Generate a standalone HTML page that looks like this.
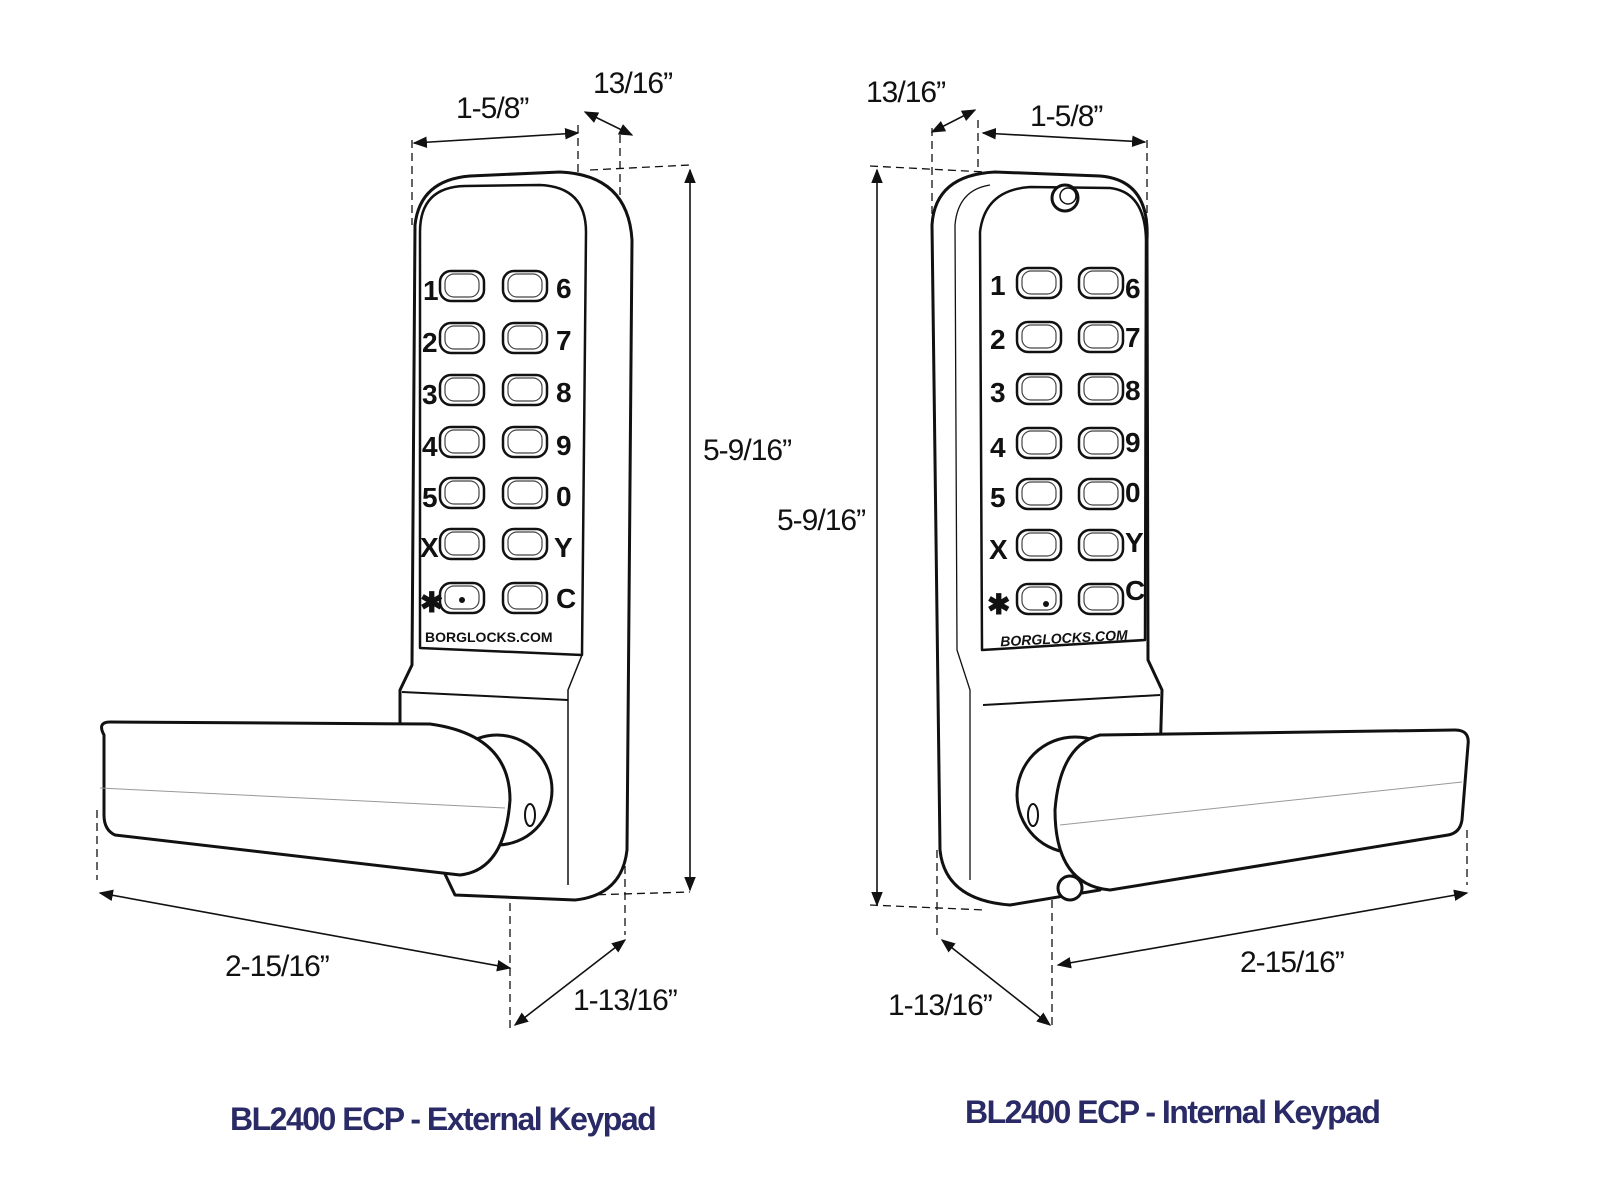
<!DOCTYPE html>
<html><head><meta charset="utf-8"><style>
html,body{margin:0;padding:0;background:#fff;width:1600px;height:1202px;overflow:hidden}
svg{display:block}
.t{font-family:"Liberation Sans",sans-serif;font-size:30px;fill:#111;letter-spacing:-1px}
.k{font-family:"Liberation Sans",sans-serif;font-weight:bold;font-size:28px;fill:#111}
.ti{font-family:"Liberation Sans",sans-serif;font-weight:bold;font-size:32px;fill:#2a2a66;letter-spacing:-1.5px}
</style></head><body>
<svg width="1600" height="1202" viewBox="0 0 1600 1202">
<defs>
<marker id="a" viewBox="0 0 10 10" refX="9" refY="5" markerWidth="9" markerHeight="9" orient="auto-start-reverse"><path d="M0,1 L10,5 L0,9 z" fill="#111"/></marker>
<g id="key"><rect x="0" y="0" width="44" height="30" rx="11" fill="#fff" stroke="#111" stroke-width="2.5"/><rect x="5" y="3" width="34" height="23" rx="9" fill="none" stroke="#444" stroke-width="1.2"/></g>
</defs>
<g fill="none" stroke="#111" stroke-width="1.3" stroke-dasharray="8,5">
<line x1="412" y1="140" x2="412" y2="225"/><line x1="578" y1="125" x2="578" y2="175"/><line x1="620" y1="135" x2="620" y2="230"/>
<line x1="590" y1="170" x2="690" y2="165"/><line x1="520" y1="897" x2="690" y2="892"/>
<line x1="97" y1="810" x2="97" y2="880"/><line x1="510" y1="890" x2="510" y2="1030"/><line x1="625" y1="840" x2="625" y2="935"/>
<line x1="932" y1="128" x2="932" y2="230"/><line x1="978" y1="120" x2="978" y2="170"/><line x1="1147" y1="140" x2="1147" y2="230"/>
<line x1="870" y1="166" x2="985" y2="172"/><line x1="870" y1="905" x2="985" y2="910"/>
<line x1="937" y1="850" x2="937" y2="935"/><line x1="1052" y1="900" x2="1052" y2="1030"/><line x1="1467" y1="830" x2="1467" y2="885"/>
</g>
<g stroke="#111" stroke-width="1.6" fill="none">
<line x1="414" y1="143" x2="578" y2="133" marker-start="url(#a)" marker-end="url(#a)"/>
<line x1="585" y1="112" x2="632" y2="135" marker-start="url(#a)" marker-end="url(#a)"/>
<line x1="690" y1="170" x2="690" y2="890" marker-start="url(#a)" marker-end="url(#a)"/>
<line x1="100" y1="893" x2="510" y2="968" marker-start="url(#a)" marker-end="url(#a)"/>
<line x1="515" y1="1025" x2="625" y2="940" marker-start="url(#a)" marker-end="url(#a)"/>
<line x1="932" y1="132" x2="975" y2="110" marker-start="url(#a)" marker-end="url(#a)"/>
<line x1="983" y1="133" x2="1145" y2="142" marker-start="url(#a)" marker-end="url(#a)"/>
<line x1="877" y1="170" x2="877" y2="905" marker-start="url(#a)" marker-end="url(#a)"/>
<line x1="942" y1="940" x2="1050" y2="1025" marker-start="url(#a)" marker-end="url(#a)"/>
<line x1="1058" y1="965" x2="1467" y2="893" marker-start="url(#a)" marker-end="url(#a)"/>
</g>
<text class="t" x="456" y="118">1-5/8”</text>
<text class="t" x="593" y="93">13/16”</text>
<text class="t" x="703" y="460">5-9/16”</text>
<text class="t" x="225" y="976">2-15/16”</text>
<text class="t" x="573" y="1010">1-13/16”</text>
<text class="t" x="866" y="102">13/16”</text>
<text class="t" x="1030" y="126">1-5/8”</text>
<text class="t" x="777" y="530">5-9/16”</text>
<text class="t" x="888" y="1015">1-13/16”</text>
<text class="t" x="1240" y="972">2-15/16”</text>

<!-- LEFT LOCK -->
<g stroke="#111" stroke-width="3" fill="#fff" stroke-linejoin="round">
<path d="M415,225 Q420,180 470,176 L560,172 Q628,175 632,240 L627,850 Q622,895 575,900 L455,895 L400,780 L400,690 L412,665 Z"/>
<path d="M585,230 L582,655 L568,690 L568,885" fill="none" stroke-width="1.5"/>
<path d="M420,648 L420,232 Q420,187 465,186 L540,185 Q586,187 586,232 L582,655 Z" stroke-width="2.5"/>
<path d="M402,692 L568,700" fill="none" stroke-width="2"/>
<circle cx="497" cy="790" r="55"/>
<ellipse cx="530" cy="815" rx="5" ry="11" stroke-width="2"/>
<path d="M104,735 Q97,722 110,722 L430,724 Q510,735 510,800 Q505,870 460,875 L115,835 Q104,830 104,815 Z"/>
<path d="M100,788 L505,808" stroke="#999" stroke-width="1" fill="none"/>
</g>
<g>
<use href="#key" x="440" y="271"/><use href="#key" x="503" y="271"/>
<use href="#key" x="440" y="323"/><use href="#key" x="503" y="323"/>
<use href="#key" x="440" y="375"/><use href="#key" x="503" y="375"/>
<use href="#key" x="440" y="427"/><use href="#key" x="503" y="427"/>
<use href="#key" x="440" y="478"/><use href="#key" x="503" y="478"/>
<use href="#key" x="440" y="529"/><use href="#key" x="503" y="529"/>
<use href="#key" x="440" y="583"/><use href="#key" x="503" y="583"/>
<circle cx="462" cy="600" r="3" fill="#111"/>
</g>
<g class="k">
<text x="423" y="300">1</text><text x="422" y="352">2</text><text x="422" y="404">3</text><text x="422" y="456">4</text><text x="422" y="507">5</text><text x="420" y="557">X</text><text x="420" y="612">✱</text>
<text x="556" y="298">6</text><text x="556" y="350">7</text><text x="556" y="402">8</text><text x="556" y="455">9</text><text x="556" y="506">0</text><text x="554" y="557">Y</text><text x="556" y="608">C</text>
</g>
<text x="425" y="642" font-family="Liberation Sans,sans-serif" font-weight="bold" font-size="14" fill="#111">BORGLOCKS.COM</text>

<!-- RIGHT LOCK -->
<g stroke="#111" stroke-width="3" fill="#fff" stroke-linejoin="round">
<path d="M932,225 Q935,175 995,172 L1100,176 Q1150,180 1147,240 L1148,660 L1162,690 L1160,760 L1100,890 L1010,905 Q945,900 940,850 Z"/>
<path d="M955,225 Q958,190 990,185 M955,225 L957,650 L970,690 L970,880" fill="none" stroke-width="1.3"/>
<path d="M980,232 Q985,190 1030,187 L1110,188 Q1145,192 1146,240 L1145,640 L982,650 Z" stroke-width="2.5"/>
<path d="M983,705 L1160,695" fill="none" stroke-width="2"/>
<circle cx="1065" cy="198" r="13"/><circle cx="1068" cy="196" r="8" stroke-width="1.5"/>
<circle cx="1070" cy="888" r="12"/>
<circle cx="1075" cy="795" r="58"/>
<ellipse cx="1033" cy="815" rx="5" ry="11" stroke-width="2"/>
<path d="M1100,735 L1455,730 Q1470,730 1468,745 L1462,820 Q1460,833 1448,835 L1110,890 Q1055,885 1055,810 Q1060,745 1100,735 Z"/>
<path d="M1060,825 L1462,782" stroke="#999" stroke-width="1" fill="none"/>
</g>
<g>
<use href="#key" x="1017" y="268"/><use href="#key" x="1079" y="268"/>
<use href="#key" x="1017" y="322"/><use href="#key" x="1079" y="322"/>
<use href="#key" x="1017" y="374"/><use href="#key" x="1079" y="374"/>
<use href="#key" x="1017" y="428"/><use href="#key" x="1079" y="428"/>
<use href="#key" x="1017" y="479"/><use href="#key" x="1079" y="479"/>
<use href="#key" x="1017" y="530"/><use href="#key" x="1079" y="530"/>
<use href="#key" x="1017" y="584"/><use href="#key" x="1079" y="584"/>
<circle cx="1046" cy="604" r="3" fill="#111"/>
</g>
<g class="k">
<text x="990" y="295">1</text><text x="990" y="349">2</text><text x="990" y="402">3</text><text x="990" y="457">4</text><text x="990" y="507">5</text><text x="989" y="559">X</text><text x="987" y="614">✱</text>
<text x="1125" y="298">6</text><text x="1125" y="347">7</text><text x="1125" y="400">8</text><text x="1125" y="452">9</text><text x="1125" y="502">0</text><text x="1125" y="552">Y</text><text x="1125" y="600">C</text>
</g>
<text x="1000" y="643" font-family="Liberation Sans,sans-serif" font-weight="bold" font-style="italic" font-size="14" fill="#111" transform="rotate(-3 1065 635)">BORGLOCKS.COM</text>

<text class="ti" x="230" y="1130">BL2400 ECP - External Keypad</text>
<text class="ti" x="965" y="1123">BL2400 ECP - Internal Keypad</text>
</svg>
</body></html>
